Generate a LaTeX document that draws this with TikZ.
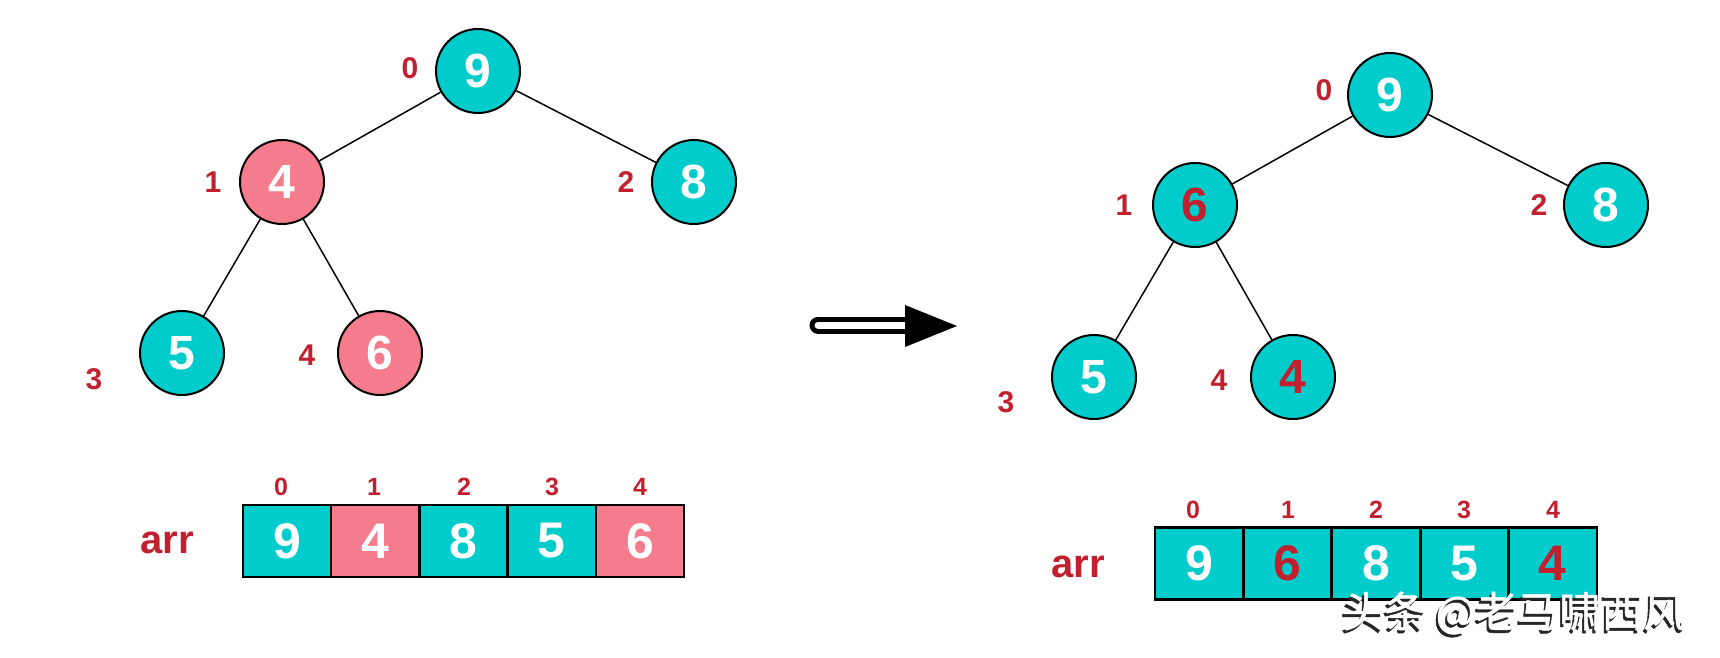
\documentclass[tikz,border=0pt]{standalone}
\usepackage{fontspec}
\setmainfont{Liberation Sans}
\newfontfamily\cjk[FakeBold=1.2]{Noto Sans CJK SC}
\definecolor{tealc}{RGB}{0,204,204}
\definecolor{pinkc}{RGB}{244,124,140}
\definecolor{redc}{RGB}{193,32,46}
\begin{document}
\begin{tikzpicture}[x=1pt,y=-1pt,
  tnode/.style={circle,draw,line width=2pt,minimum size=84pt,inner sep=0pt,
    font=\fontsize{48}{48}\selectfont\bfseries,text=white,fill=tealc},
  hot/.style={fill=pinkc},
  redtxt/.style={text=redc},
  idx/.style={font=\fontsize{30}{30}\selectfont\bfseries,text=redc,inner sep=0pt},
  aidx/.style={font=\fontsize{25}{25}\selectfont\bfseries,text=redc,inner sep=0pt},
  cell/.style={rectangle,draw,line width=2.5pt,minimum width=88.2pt,minimum height=72pt,
    inner sep=0pt,font=\fontsize{50}{50}\selectfont\bfseries,text=white,fill=tealc},
  arrlbl/.style={font=\fontsize{40}{40}\selectfont\bfseries,text=redc,inner sep=0pt},
  edge/.style={line width=1.5pt},
  wm/.style={font=\cjk\fontsize{42}{42}\selectfont,inner sep=0pt,anchor=west}
]
\useasboundingbox (0,0) rectangle (1720,658);

% ---------- left tree ----------
\node[tnode] (L0) at (478,71) {9};
\node[tnode,hot] (L1) at (282,182) {4};
\node[tnode] (L2) at (694,182) {8};
\node[tnode] (L3) at (182,353) {5};
\node[tnode,hot] (L4) at (380,353) {6};
\draw[edge] (L0) -- (L1);
\draw[edge] (L0) -- (L2);
\draw[edge] (L1) -- (L3);
\draw[edge] (L1) -- (L4);
\node[idx] (l0) at (410,68) {0};
\node[idx] (l1) at (213,182) {1};
\node[idx] (l2) at (626,182) {2};
\node[idx] (l3) at (94,379) {3};
\node[idx] (l4) at (307,355) {4};

% ---------- left array ----------
\node[arrlbl] (arrL) at (167,543) {arr};
\node[cell] (a0) at (287.1,541) {9};
\node[cell,hot] (a1) at (375.3,541) {4};
\node[cell] (a2) at (463.5,541) {8};
\node[cell] (a3) at (551.7,541) {5};
\node[cell,hot] (a4) at (639.9,541) {6};
\node[aidx] (ai0) at (281,487) {0};
\node[aidx] (ai1) at (374,487) {1};
\node[aidx] (ai2) at (464,487) {2};
\node[aidx] (ai3) at (552,487) {3};
\node[aidx] (ai4) at (640,487) {4};

% ---------- arrow ----------
\coordinate (s0) at (818,325);
\coordinate (s1) at (906,325);
\draw[line width=17pt,line cap=round] (s0) -- (s1);
\draw[white,line width=7pt,line cap=round] (s0) -- (s1);
\fill (905,305) -- (957,326) -- (905,347) -- cycle;

% ---------- right tree ----------
\node[tnode] (R0) at (1390,95) {9};
\node[tnode,redtxt] (R1) at (1195,205) {6};
\node[tnode] (R2) at (1606,205) {8};
\node[tnode] (R3) at (1094,377) {5};
\node[tnode,redtxt] (R4) at (1293,377) {4};
\draw[edge] (R0) -- (R1);
\draw[edge] (R0) -- (R2);
\draw[edge] (R1) -- (R3);
\draw[edge] (R1) -- (R4);
\node[idx] (r0) at (1324,90) {0};
\node[idx] (r1) at (1124,205) {1};
\node[idx] (r2) at (1539,205) {2};
\node[idx] (r3) at (1006,402) {3};
\node[idx] (r4) at (1219,380) {4};

% ---------- right array ----------
\node[arrlbl] (arrR) at (1078,567) {arr};
\node[cell] (b0) at (1199.2,563.5) {9};
\node[cell,redtxt] (b1) at (1287.6,563.5) {6};
\node[cell] (b2) at (1376,563.5) {8};
\node[cell] (b3) at (1464.4,563.5) {5};
\node[cell,redtxt] (b4) at (1552.8,563.5) {4};
\node[aidx] (bi0) at (1193,510) {0};
\node[aidx] (bi1) at (1288,510) {1};
\node[aidx] (bi2) at (1376,510) {2};
\node[aidx] (bi3) at (1464,510) {3};
\node[aidx] (bi4) at (1553,510) {4};

% ---------- watermark ----------
\node[wm,text=black!85] (wms) at (1340,616) {头条 @老马啸西风};
\node[wm,text=white] (wmt) at (1342,613) {头条 @老马啸西风};
\end{tikzpicture}
\end{document}
